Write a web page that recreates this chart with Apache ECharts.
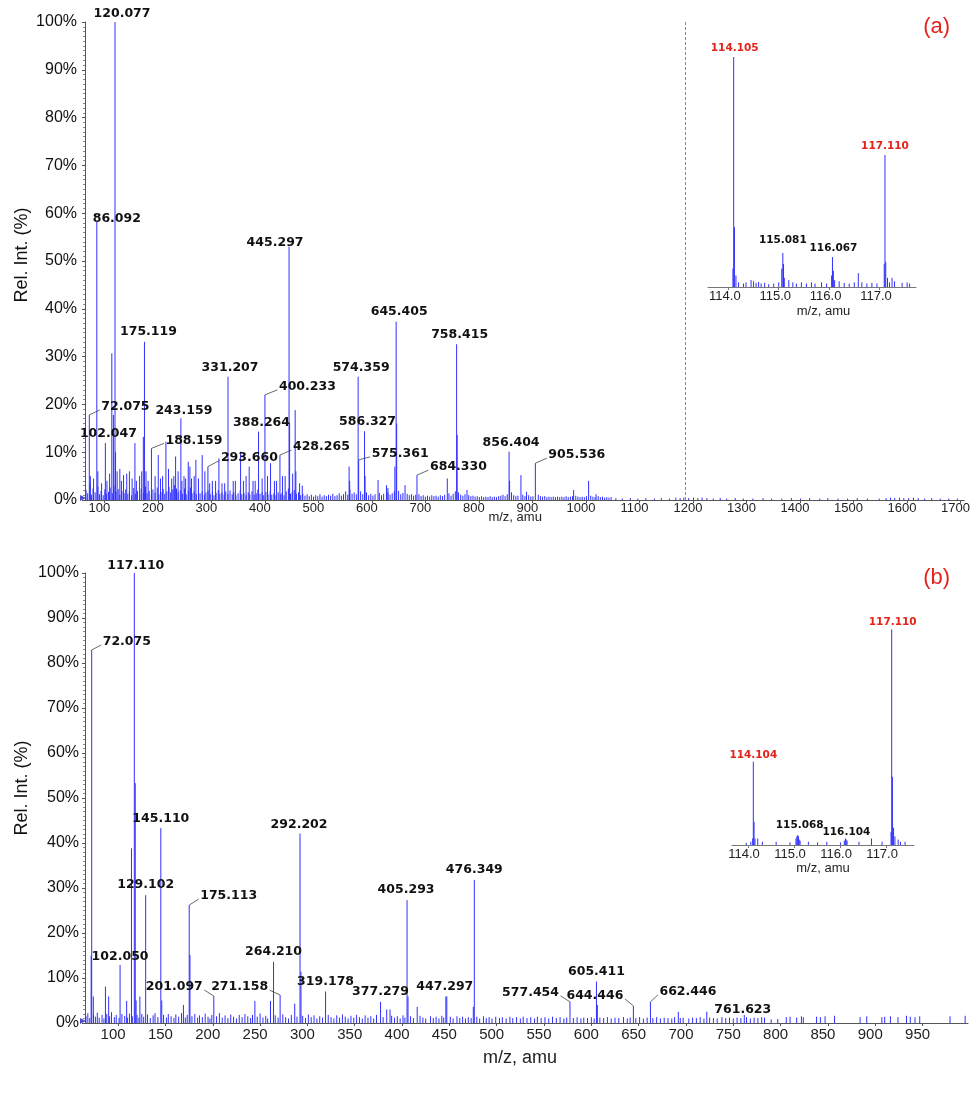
<!DOCTYPE html>
<html><head><meta charset="utf-8">
<script src="https://cdn.jsdelivr.net/npm/echarts@6/dist/echarts.min.js"></script>
<style>html,body{margin:0;padding:0;background:#fff}#c{width:973px;height:1095px}</style>
</head><body><div id="c"></div>
<script>
// ---------- Panel (a): main spectrum ----------
const peaksA = [[72.075,17.8],[74,5],[80,4.5],[86.092,58.2],[88,6],[95,3.5],[102.047,11.9],[105,4],[110,5.5],[114.105,30.7],[117.11,17.8],[120.077,100],[121.08,10],[124,6],[129.1,6.5],[132,4],[136,5.2],[142,5.5],[147,6],[152,4.5],[157.3,11.9],[160,4],[166,5],[170,6],[173,13.2],[175.119,33.1],[178,6],[182,4],[188.159,10.8],[195,5],[200.9,9.4],[205,4.5],[209,5],[215.2,12.2],[220,6.5],[226,4.5],[230,5],[233.3,9.1],[238,6],[243.159,17.1],[245,4],[249,5],[252,4.5],[256.9,8],[260,7],[263,4.5],[268,5],[271.2,8.4],[276,4.5],[283,9.4],[288,6],[293.66,7],[297,3.5],[302,4],[308,4],[314.2,8.7],[320,3.5],[325,3.5],[331.207,25.8],[341,4],[345,4],[354.7,10.1],[360,4],[365,5],[370.8,7],[378,4],[382,4],[388.264,14.3],[395,4.5],[400.233,22],[405,5],[410.7,7.7],[418,4],[422,4],[428.265,9.4],[433,5],[438,5],[445.297,53],[446.3,16],[452,5.5],[456.7,18.8],[458,6],[465,3.5],[470,3],[557.5,7],[558.5,4],[574.359,25.8],[575.361,8.4],[586.327,14.4],[587.3,5],[611.6,4.2],[627.3,3.1],[630,2.5],[643,7],[645.405,37.3],[646.4,16],[662,3.1],[684.33,5.2],[741,4.5],[758.415,32.6],[759.4,13.6],[777.8,2.1],[856.404,10.1],[857.4,4],[878.6,5.2],[889,1.7],[905.536,7.7],[977,2.1],[1005,4],[1019,1.2]];
const noiseA = [[66,2.1],[69,1.4],[73,3.2],[76,1.1],[79,2.4],[83,1.6],[88,2.8],[91,1.2],[94,1.9],[98,1.0],[101,2.2],[104,1.3],[108,1.7],[111,2.6],[115,1.4],[118,3.0],[122,1.8],[126,2.3],[129,1.1],[133,1.9],[137,1.4],[140,2.2],[144,1.3],[147,1.8],[151,1.0],[155,2.5],[158,1.3],[162,1.9],[166,1.2],[169,2.4],[173,1.5],[177,2.8],[180,1.4],[184,1.9],[188,1.1],[191,2.2],[195,1.5],[199,2.6],[202,1.2],[206,1.7],[210,2.3],[213,1.3],[217,1.8],[221,2.7],[224,1.6],[228,2.2],[231,3.1],[235,2.4],[238,1.6],[242,2.0],[246,1.3],[250,2.4],[253,1.2],[257,1.9],[261,2.6],[264,1.4],[268,1.8],[272,1.2],[276,2.1],[279,1.4],[283,1.8],[287,1.1],[290,1.6],[294,2.0],[298,1.2],[302,1.7],[305,1.0],[309,1.5],[313,2.1],[316,1.3],[320,1.6],[324,1.1],[327,1.8],[331,1.3],[335,2.0],[339,1.2],[342,1.6],[346,1.0],[350,1.4],[354,2.0],[357,1.2],[361,1.5],[365,1.0],[369,1.6],[372,1.2],[376,1.8],[380,1.1],[384,1.4],[387,2.2],[391,1.3],[395,1.6],[398,1.0],[402,1.7],[406,1.2],[410,1.9],[413,1.1],[417,1.4],[421,1.0],[425,1.6],[429,1.2],[432,1.5],[436,1.0],[440,1.8],[444,2.4],[448,1.3],[451,1.7],[455,2.1],[459,1.3],[463,1.6],[467,1.0],[471,1.3],[475,0.9],[479,1.2],[483,0.8],[487,1.1],[491,0.7],[495,1.0],[499,0.8],[503,1.2],[507,0.7],[511,1.0],[515,0.8],[519,1.1],[523,0.9],[527,1.3],[531,0.8],[535,1.0],[539,1.4],[543,0.9],[547,1.2],[551,1.8],[555,1.1],[559,2.2],[563,1.3],[567,1.6],[571,1.2],[579,1.8],[583,1.2],[590,1.6],[594,1.0],[598,1.3],[602,0.9],[606,1.2],[614,1.5],[618,1.0],[622,1.3],[630,1.6],[634,1.1],[638,1.4],[642,1.8],[650,1.9],[654,1.2],[658,1.5],[666,1.3],[670,1.0],[674,1.2],[678,0.9],[682,1.1],[688,1.2],[692,0.8],[696,1.0],[700,0.7],[704,0.9],[708,0.7],[712,1.0],[716,0.8],[720,0.9],[724,0.7],[728,1.0],[732,0.8],[736,1.1],[744,1.4],[748,0.9],[752,1.3],[756,1.8],[762,1.6],[766,1.1],[770,0.9],[774,1.2],[781,1.0],[785,0.8],[789,0.9],[793,0.7],[797,0.8],[801,0.6],[805,0.8],[809,0.6],[813,0.7],[817,0.6],[821,0.8],[825,0.6],[829,0.7],[833,0.6],[837,0.8],[841,0.9],[845,1.1],[849,0.8],[853,1.2],[861,1.6],[865,1.0],[869,0.8],[873,0.9],[882,1.1],[886,0.8],[893,1.0],[897,0.7],[901,0.8],[911,1.1],[915,0.8],[919,0.7],[923,0.8],[927,0.6],[931,0.7],[935,0.6],[939,0.7],[943,0.6],[947,0.7],[951,0.6],[955,0.7],[959,0.6],[963,0.8],[967,0.6],[971,0.7],[975,0.8],[981,0.9],[985,0.7],[989,0.6],[993,0.7],[997,0.6],[1001,0.8],[1009,0.9],[1013,0.7],[1017,0.6],[1023,0.8],[1027,0.6],[1031,0.7],[1035,0.5],[1039,0.6],[1043,0.5],[1047,0.6],
[1056,0.4],[1068,0.3],[1083,0.4],[1097,0.3],[1112,0.4],[1128,0.3],[1141,0.4],[1156,0.3],[1168,0.5],[1176,0.4],[1183,0.5],[1192,0.4],[1201,0.5],[1209,0.4],[1217,0.5],[1226,0.4],[1238,0.3],[1251,0.4],[1263,0.3],[1279,0.4],[1294,0.3],[1312,0.3],[1331,0.4],[1347,0.3],[1366,0.3],[1384,0.4],[1401,0.3],[1418,0.4],[1437,0.3],[1452,0.4],[1471,0.3],[1489,0.3],[1507,0.4],[1526,0.3],[1548,0.3],[1561,0.4],[1569,0.5],[1577,0.4],[1586,0.5],[1594,0.4],[1603,0.4],[1612,0.5],[1621,0.4],[1633,0.3],[1646,0.4],[1662,0.3],[1678,0.3],[1694,0.3]];
const labelsA = ['120.077','86.092','445.297','175.119','331.207','400.233','72.075','243.159','388.264','102.047','188.159','428.265','293.660','645.405','758.415','574.359','586.327','575.361','684.330','856.404','905.536'];
const ticksA = [100,200,300,400,500,600,700,800,900,1000,1100,1200,1300,1400,1500,1600,1700];
const markA = 1186;

// ---------- Panel (a): inset ----------
const peaksIA = [[114.09,8],[114.105,100],[114.12,26],[114.15,5],[114.2,2],[115.06,8],[115.081,14.8],[115.095,10],[115.11,4],[116.05,5],[116.067,13],[116.085,7],[116.11,3],[117.095,10],[117.11,57.4],[117.125,11],[117.16,4],[117.2,2]];
const noiseIA = [[114.3,1.5],[114.35,2],[114.45,3],[114.5,2.5],[114.55,1.8],[114.6,2.2],[114.65,1.5],[114.72,1.8],[114.8,1.2],[114.9,1.5],[115.0,2],[115.2,3],[115.28,2],[115.35,1.5],[115.45,2],[115.55,1.5],[115.65,2],[115.72,1.5],[115.85,2],[115.95,1.5],[116.2,2.5],[116.3,1.8],[116.4,1.5],[116.5,2],[116.58,6],[116.65,2],[116.75,1.5],[116.85,1.8],[116.95,1.5],[117.25,4],[117.3,2.5],[117.45,1.8],[117.55,2],[117.6,1.5]];
const labelsIA = ['114.105','117.110','115.081','116.067'];
const ticksI = [114,115,116,117];

// ---------- Panel (b): main spectrum ----------
const peaksB = [[71.5,15],[72.075,82.9],[73.8,5.9],[86.6,8.1],[90,5.9],[102.05,12.9],[109,4.9],[114.104,38.8],[117.11,100],[118.11,53.3],[119,5],[123,5.9],[129.102,28.4],[145.11,43.3],[146.1,5],[169,4],[175.113,26.2],[175.9,15.1],[201.097,6],[244.5,4.9],[261,4.9],[264.21,13.6],[271.158,6.2],[286.6,4.3],[292.202,42.1],[293.2,11.4],[319.178,7],[377.279,4.7],[383.8,3],[387.3,3],[405.293,27.3],[406.3,5.9],[416,3.6],[446.3,5.9],[447.297,5.9],[475.3,3.6],[476.349,31.8],[577.454,4.7],[605.411,9.2],[606.4,4],[644.446,3.8],[662.446,4.7],[691.9,2.5],[722,2.5],[761.623,1.8]];
const noiseB = [[66,1.6],[68,2.2],[70,1.1],[74,1.9],[76,1.4],[78,2.3],[80,1.2],[83,1.8],[85,1.0],[88,2.0],[91,1.5],[93,2.4],[96,1.3],[98,1.8],[101,1.1],[104,2.0],[107,1.6],[110,1.2],[112,2.1],[115,1.5],[120,1.8],[122,1.2],[125,2.0],[127,1.4],[131,1.9],[134,1.1],[137,1.7],[139,2.2],[142,1.3],[148,1.8],[151,1.2],[153,2.0],[156,1.5],[159,1.1],[161,1.9],[164,1.4],[167,2.2],[171,1.2],[173,1.8],[178,1.5],[181,2.0],[184,1.2],[186,1.7],[189,1.3],[192,2.1],[195,1.4],[197,1.0],[199,1.8],[204,1.5],[207,2.2],[210,1.2],[213,1.7],[216,1.1],[219,1.9],[222,1.4],[225,1.0],[228,1.8],[231,1.3],[234,2.0],[237,1.5],[240,1.1],[242,1.8],[247,1.4],[250,2.1],[253,1.2],[256,1.6],[258,1.0],[266,1.7],[269,1.2],[274,1.9],[277,1.3],[280,1.0],[283,1.8],[289,1.4],[295,1.6],[298,1.1],[301,1.9],[304,1.3],[307,1.7],[310,1.0],[313,1.5],[316,1.2],[322,1.8],[325,1.3],[328,1.0],[331,1.7],[334,1.2],[337,1.9],[340,1.4],[343,1.0],[346,1.6],[349,1.2],[352,1.8],[355,1.3],[358,1.0],[361,1.7],[364,1.2],[367,1.5],[370,1.0],[373,1.8],[380,1.3],[389,1.6],[392,1.2],[395,1.5],[398,1.0],[401,1.7],[403,1.2],[409,1.5],[412,1.1],[419,1.6],[422,1.2],[425,1.0],[430,1.5],[433,1.1],[436,1.4],[439,1.0],[442,1.6],[444,1.2],[451,1.4],[454,1.0],[458,1.5],[461,1.1],[464,1.4],[467,1.0],[470,1.3],[473,1.1],[479,1.4],[482,1.0],[486,1.5],[489,1.1],[492,1.3],[495,1.0],[499,1.4],[503,1.1],[506,1.3],[510,1.0],[514,1.4],[517,1.1],[521,1.3],[525,1.0],[528,1.4],[532,1.1],[536,1.3],[540,1.0],[543,1.4],[547,1.1],[551,1.3],[555,1.0],[559,1.4],[563,1.1],[567,1.3],[571,1.0],[574,1.2],[581,1.1],[585,1.3],[589,1.0],[592,1.2],[596,1.1],[600,1.3],[603,1.0],[609,1.2],[613,1.1],[617,1.3],[621,1.0],[625,1.2],[629,1.1],[634,1.3],[638,1.0],[641,1.2],[647,1.1],[651,1.3],[655,1.0],[659,1.2],[665,1.1],[669,1.3],[673,1.0],[677,1.2],[681,1.1],[685,1.0],[688,1.3],[694,1.1],[697,1.2],[703,1.0],[707,1.2],[711,1.1],[715,1.3],[719,1.0],[725,1.2],[729,1.1],[733,1.0],[738,1.3],[742,1.1],[746,1.2],[750,1.0],[754,1.2],[758,1.1],[764,1.3],[768,1.0],[772,1.2],[776,1.1],[780,1.3],[783,1.2],[790,0.8],[797,0.9],[806,1.3],[810,1.4],[817,1.2],[822,1.5],[824,1.3],[838,1.4],[842,1.3],[847,1.5],[857,1.6],[884,1.3],[891,1.5],[907,1.3],[910,1.4],[916,1.5],[924,1.3],[933,1.6],[937,1.4],[942,1.3],[947,1.5],[979,1.5],[995,1.6]];
const labelsB = ['117.110','72.075','145.110','292.202','129.102','175.113','102.050','264.210','201.097','271.158','319.178','377.279','405.293','447.297','476.349','577.454','605.411','644.446','662.446','761.623'];
const ticksB = [100,150,200,250,300,350,400,450,500,550,600,650,700,750,800,850,900,950];

// ---------- Panel (b): inset ----------
const peaksIB = [[114.09,3],[114.104,38.6],[114.12,10.8],[114.14,3],[115.068,4.6],[115.085,4],[116.104,3],[116.12,2.5],[117.095,6],[117.11,100],[117.125,31.6],[117.15,8],[117.18,4]];
const noiseIB = [[113.95,1],[114.05,1.5],[114.2,3],[114.3,1.5],[114.6,1.5],[114.9,1.2],[115.03,3],[115.05,4],[115.1,2.5],[115.12,2],[115.3,1.5],[115.5,1.2],[115.7,1.5],[116.0,1.2],[116.08,2],[116.14,2],[116.4,1.5],[116.67,3],[116.9,1.5],[117.25,2.5],[117.3,1.5],[117.4,1.5]];
const labelsIB = ['117.110','114.104','115.068','116.104'];

// ---------- layout / style (not data) ----------
const FONT = '"Liberation Sans", Arial, sans-serif';
const LFONT = '"DejaVu Sans", Verdana, sans-serif';
const BLUE = '#3030ff';
const RED = '#e3241d';
const nudgeA = {'120.077':[7,-8,'c'],'86.092':[20,-3,'c'],'445.297':[-14,-4,'c'],'175.119':[4,-10,'c'],'331.207':[2,-9,'c'],'400.233':[14,-8,'l'],'72.075':[12,-8,'l'],'243.159':[3,-8,'c'],'388.264':[3,-9,'c'],'102.047':[3,-9,'c'],'188.159':[14,-8,'l'],'428.265':[13,-8,'l'],'293.660':[13,-9,'l'],'645.405':[3,-10,'c'],'758.415':[3,-9,'c'],'574.359':[3,-9,'c'],'586.327':[3,-9,'c'],'575.361':[13,-6,'l'],'684.330':[13,-8,'l'],'856.404':[2,-9,'c'],'905.536':[13,-8,'l']};
const nudgeB = {'117.110':[1.5,-7,'c'],'72.075':[11,-8,'l'],'145.110':[0,-9,'c'],'292.202':[-1,-9,'c'],'129.102':[0,-10,'c'],'175.113':[11,-9,'l'],'102.050':[0,-8,'c'],'264.210':[0,-10,'c'],'201.097':[-11,-9,'r'],'271.158':[-12,-8,'r'],'319.178':[0,-10,'c'],'377.279':[0,-10,'c'],'405.293':[-1,-10,'c'],'447.297':[-2,-10,'c'],'476.349':[0,-10,'c'],'577.454':[-11,-9,'r'],'605.411':[0,-10,'c'],'644.446':[-10,-10,'r'],'662.446':[9,-10,'l'],'761.623':[-1.5,-5,'c']};
const nudgeIA = {'114.105':[1,-9,'c'],'117.110':[0,-9,'c'],'115.081':[0,-13,'c'],'116.067':[1,-9,'c']};
const nudgeIB = {'117.110':[1,-7,'c'],'114.104':[0,-6,'c'],'115.068':[2,-10,'c'],'116.104':[1,-6,'c']};
const redIA = ['114.105','117.110'];
const redIB = ['114.104','117.110'];

function sticks(data, gi) {
  return {type:'custom', xAxisIndex:gi, yAxisIndex:gi, data:data, z:3, silent:true,
    renderItem:function(p, api){
      const a = api.coord([api.value(0), 0]);
      const b = api.coord([api.value(0), api.value(1)]);
      return {type:'line', shape:{x1:a[0], y1:a[1], x2:b[0], y2:b[1]}, style:{stroke:BLUE, lineWidth:1}};
    }};
}
function labels(texts, peaks, nudges, gi, size, reds) {
  const data = texts.map(function(t){
    const v = parseFloat(t);
    const pk = peaks.find(function(q){ return Math.abs(q[0]-v) < 1e-6; });
    return [v, pk ? pk[1] : 0];
  });
  return {type:'custom', xAxisIndex:gi, yAxisIndex:gi, data:data, z:5, silent:true,
    renderItem:function(p, api){
      const t = texts[p.dataIndex];
      const n = nudges[t] || [0,-9,'c'];
      const c = api.coord([api.value(0), api.value(1)]);
      const tx = c[0] + n[0], ty = c[1] + n[1];
      const al = n[2] === 'l' ? 'left' : (n[2] === 'r' ? 'right' : 'center');
      const ch = [{type:'text', x:tx, y:ty, style:{text:t, font:'bold ' + size + 'px ' + LFONT,
        fill: reds.indexOf(t) >= 0 ? RED : '#111', align:al, verticalAlign:'middle'}}];
      if (n[2] !== 'c') {
        ch.push({type:'line', shape:{x1:c[0], y1:c[1], x2: n[2] === 'l' ? tx - 1.5 : tx + 1.5, y2: ty + 3},
          style:{stroke:'#444', lineWidth:0.8}});
      }
      return {type:'group', children:ch};
    }};
}
function xAx(gi, min, max, ticks, fs, margin, shift, name, nameGap, nameFs, namePad, fmt, lineColor) {
  return {type:'value', gridIndex:gi, min:min, max:max,
    axisLine:{show:true, onZero:false, lineStyle:{color:lineColor, width:1}},
    axisTick:{show:true, customValues:ticks, length:3, inside:false, lineStyle:{color:lineColor}},
    axisLabel:{customValues:ticks, fontSize:fs, color:'#222', margin:margin, fontFamily:FONT,
      padding:[0, shift, 0, 0], formatter:fmt},
    splitLine:{show:false},
    name:name, nameLocation:'middle', nameGap:nameGap, nameMoveOverlap:false,
    nameTextStyle:{fontSize:nameFs, color:'#222', fontFamily:FONT, padding:namePad}};
}
function yMain(gi, margin, namePad) {
  return {type:'value', gridIndex:gi, min:0, max:100, interval:10,
    axisLine:{show:true, lineStyle:{color:'#555'}},
    axisTick:{show:true, length:3, lineStyle:{color:'#555'}},
    minorTick:{show:true, splitNumber:10, length:2, lineStyle:{color:'#888'}},
    axisLabel:{formatter:'{value}%', fontSize:16, color:'#111', margin:margin, fontFamily:FONT},
    splitLine:{show:false},
    name:'Rel. Int. (%)', nameLocation:'middle', nameGap:54, nameRotate:90, nameMoveOverlap:false,
    nameTextStyle:{fontSize:18, color:'#111', fontFamily:FONT, padding:namePad}};
}
function yHidden(gi) { return {type:'value', gridIndex:gi, min:0, max:100, show:false}; }
function tri(gi, xmin) {
  return {type:'scatter', xAxisIndex:gi, yAxisIndex:gi, data:[[xmin, 0]], symbol:'triangle', symbolRotate:-90,
    symbolSize:6, symbolOffset:[-2,-2], itemStyle:{color:'#2020c0'}, silent:true, clip:false, z:6};
}
const plain = function(v){ return String(v); };
const one = function(v){ return v.toFixed(1); };

const chart = echarts.init(document.getElementById('c'));
const sA = sticks(peaksA.concat(noiseA), 0);
sA.markLine = {silent:true, symbol:'none', label:{show:false}, animation:false,
  lineStyle:{color:'#888', type:[3,2], width:1}, data:[{xAxis:markA}]};

chart.setOption({
  animation:false,
  backgroundColor:'#fff',
  grid:[
    {left:85, top:22, width:880, height:478},
    {left:708, top:57, width:208, height:230},
    {left:85, top:573, width:883, height:450},
    {left:732, top:629.3, width:182, height:215.7}
  ],
  xAxis:[
    xAx(0, 64, 1707, ticksA, 13, 2, 10, 'm/z, amu', 11, 13, [0,19,0,0], plain, '#555'),
    xAx(1, 113.595, 117.726, ticksI, 13, 3, 7, 'm/z, amu', 18, 13, [0,0,0,23], one, '#777'),
    xAx(2, 65, 998, ticksB, 15, 4, 10, 'm/z, amu', 26, 18, [0,13,0,0], plain, '#555'),
    xAx(3, 113.641, 117.594, ticksI, 13, 3, 9, 'm/z, amu', 17, 13, [0,0,0,0], one, '#777')
  ],
  yAxis:[ yMain(0, 8, [0,0,0,12]), yHidden(1), yMain(2, 6, [0,0,0,20]), yHidden(3) ],
  graphic:[
    {type:'text', x:936.7, y:26.7, style:{text:'(a)', font:'22px ' + FONT, fill:RED, align:'center', verticalAlign:'middle'}},
    {type:'text', x:936.7, y:578.3, style:{text:'(b)', font:'22px ' + FONT, fill:RED, align:'center', verticalAlign:'middle'}}
  ],
  series:[
    sA,
    labels(labelsA, peaksA, nudgeA, 0, 12.5, []),
    tri(0, 64),
    sticks(peaksIA.concat(noiseIA), 1),
    labels(labelsIA, peaksIA, nudgeIA, 1, 10.5, redIA),
    sticks(peaksB.concat(noiseB), 2),
    labels(labelsB, peaksB, nudgeB, 2, 12.5, []),
    tri(2, 65),
    sticks(peaksIB.concat(noiseIB), 3),
    labels(labelsIB, peaksIB, nudgeIB, 3, 10.5, redIB)
  ]
});
</script></body></html>
